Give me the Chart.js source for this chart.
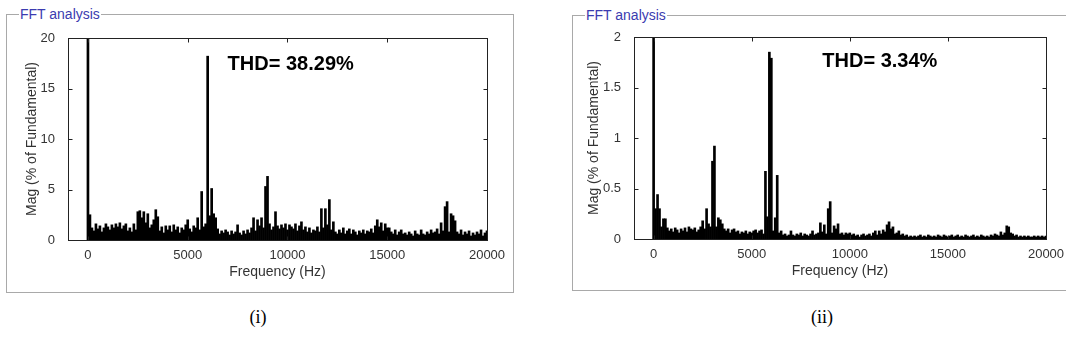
<!DOCTYPE html>
<html>
<head>
<meta charset="utf-8">
<script src="https://cdn.jsdelivr.net/npm/chart.js@4.4.0/dist/chart.umd.min.js"></script>
<style>
  body { margin:0; width:1066px; height:356px; overflow:hidden; background:#fff; position:relative; font-family:'Liberation Sans', Arial, sans-serif; }
  fieldset { position:absolute; margin:0; padding:0; border:1px solid #a9a9a9; box-sizing:border-box; }
  legend { font-size:14px; line-height:16px; color:#3b3bb0; padding:0 1px; }
  #box1 { left:6px; top:6px; width:508px; height:287px; }
  #box1 legend { margin-left:12px; }
  #box2 { left:572px; top:7px; width:520px; height:284px; }
  #box2 legend { margin-left:12px; }
  canvas { position:absolute; }
  #chart1 { left:0; top:0; }
  #chart2 { left:566px; top:0; }
  .cap { position:absolute; top:307px; width:100px; text-align:center; font-family:'Liberation Serif', serif; font-size:18px; }
</style>
</head>
<body>
<fieldset id="box1"><legend>FFT analysis</legend></fieldset>
<fieldset id="box2"><legend>FFT analysis</legend></fieldset>
<canvas id="chart1" width="520" height="300"></canvas>
<canvas id="chart2" width="500" height="300"></canvas>
<div class="cap" style="left:208px">(i)</div>
<div class="cap" style="left:772px">(ii)</div>
<script>
// 周波数ビン (Hz)
const binHz = 100;
const xTicks = [0, 5000, 10000, 15000, 20000];
const yTicks1 = [0, 5, 10, 15, 20];
const yTicks2 = [0, 0.5, 1, 1.5, 2];
const thdText = ['THD= 38.29%', 'THD= 3.34%'];

// (i) Mag (% of Fundamental), 0..20000 Hz
const mag1 = [
  100, 2.5, 1.2, 0.9, 1.6, 1.1, 1.4, 0.8, 1.2, 1.6,
  1.3, 1.0, 1.5, 1.2, 1.6, 1.3, 1.7, 1.1, 1.4, 1.6,
  0.9, 1.2, 0.8, 1.6, 1.0, 2.8, 2.9, 2.2, 2.8, 1.7,
  2.6, 1.2, 1.5, 2.0, 3.0, 2.3, 0.9, 1.3, 0.7, 1.4,
  1.0, 1.4, 0.8, 1.5, 1.0, 1.3, 0.7, 1.2, 1.0, 1.5,
  2.0, 1.1, 0.8, 1.4, 1.2, 2.2, 1.0, 4.8, 1.3, 1.6,
  18.2, 2.4, 5.1, 2.6, 2.2, 1.1, 0.6, 0.9, 0.7, 1.0,
  0.8, 0.5, 0.9, 0.6, 0.8, 1.5, 0.7, 0.5, 0.9, 0.6,
  1.0, 0.7, 1.2, 2.2, 0.9, 2.0, 1.4, 2.2, 1.2, 5.3,
  6.3, 1.6, 1.0, 1.3, 2.8, 1.4, 1.1, 1.5, 1.2, 1.6,
  1.0, 1.5, 1.3, 1.1, 1.6, 0.9, 1.4, 1.8, 1.0, 1.3,
  0.8, 1.2, 0.7, 1.0, 0.9, 1.3, 0.8, 3.1, 1.2, 3.1,
  1.5, 4.0, 1.0, 1.8, 0.8, 0.6, 1.0, 0.7, 1.2, 0.6,
  0.9, 1.1, 0.6, 1.0, 0.8, 0.5, 0.9, 0.7, 1.0, 0.6,
  0.9, 0.8, 1.1, 0.7, 1.4, 2.0, 1.3, 1.7, 0.9, 1.6,
  1.2, 1.2, 0.8, 0.6, 1.0, 0.5, 0.8, 1.0, 0.6, 0.7,
  0.5, 0.8, 0.6, 0.4, 0.9, 0.6, 0.5, 1.0, 0.6, 0.5,
  0.8, 0.6, 1.0, 0.7, 0.8, 1.1, 0.6, 1.7, 0.9, 3.3,
  3.8, 0.8, 2.6, 2.4, 1.9, 0.8, 0.6, 1.0, 0.5, 0.8,
  0.6, 0.9, 0.4, 0.7, 0.5, 0.8, 0.6, 1.0, 0.4, 0.7,
  0.9
];

// (ii) Mag (% of Fundamental), 0..20000 Hz
const mag2 = [
  100, 0.30, 0.44, 0.30, 0.12, 0.20, 0.20, 0.11, 0.08, 0.10,
  0.07, 0.11, 0.09, 0.06, 0.10, 0.08, 0.11, 0.07, 0.12, 0.10,
  0.09, 0.11, 0.07, 0.09, 0.12, 0.18, 0.10, 0.30, 0.15, 0.12,
  0.77, 0.92, 0.12, 0.21, 0.19, 0.15, 0.10, 0.08, 0.10, 0.06,
  0.09, 0.10, 0.07, 0.08, 0.05, 0.07, 0.06, 0.08, 0.05, 0.07,
  0.06, 0.08, 0.09, 0.06, 0.08, 0.09, 0.05, 0.67, 0.22, 1.85,
  1.79, 0.08, 0.21, 0.63, 0.06, 0.08, 0.04, 0.05, 0.03, 0.04,
  0.08, 0.04, 0.03, 0.05, 0.04, 0.06, 0.03, 0.05, 0.04, 0.03,
  0.05, 0.08, 0.04, 0.05, 0.06, 0.16, 0.07, 0.14, 0.05, 0.30,
  0.37, 0.06, 0.13, 0.10, 0.15, 0.05, 0.06, 0.04, 0.06, 0.05,
  0.06, 0.04, 0.05, 0.03, 0.04, 0.02, 0.04, 0.05, 0.03, 0.04,
  0.05, 0.03, 0.06, 0.08, 0.04, 0.08, 0.05, 0.09, 0.07, 0.14,
  0.17, 0.10, 0.12, 0.05, 0.06, 0.08, 0.04, 0.05, 0.03, 0.04,
  0.02, 0.03, 0.02, 0.03, 0.02, 0.03, 0.04, 0.02, 0.03, 0.02,
  0.04, 0.03, 0.02, 0.03, 0.02, 0.04, 0.03, 0.02, 0.04, 0.03,
  0.02, 0.03, 0.04, 0.02, 0.03, 0.04, 0.02, 0.03, 0.02, 0.04,
  0.03, 0.02, 0.03, 0.04, 0.02, 0.03, 0.02, 0.04, 0.03, 0.02,
  0.03, 0.02, 0.04, 0.03, 0.05, 0.04, 0.03, 0.07, 0.04, 0.06,
  0.13, 0.12, 0.06, 0.05, 0.03, 0.04, 0.02, 0.03, 0.02, 0.03,
  0.02, 0.03, 0.02, 0.02, 0.03, 0.02, 0.03, 0.02, 0.03, 0.02,
  0.03
];

Chart.defaults.font.family = "'Liberation Sans', Arial, sans-serif";
Chart.defaults.color = '#333';

// 枠線・内向き目盛り・THD表示
const boxPlugin = {
  id: 'box',
  afterDatasetsDraw(chart, args, o) {
    const { ctx, chartArea: a, scales: { x, y } } = chart;
    const L = Math.round(a.left) + 0.5, R = Math.round(a.right) + 0.5;
    const T = Math.round(a.top) + 0.5, B = Math.round(a.bottom) + 0.5;
    ctx.save();
    ctx.strokeStyle = '#222';
    ctx.lineWidth = 1;
    ctx.strokeRect(L, T, R - L, B - T);
    ctx.beginPath();
    x.ticks.forEach(t => {
      const px = Math.round(x.getPixelForValue(t.value)) + 0.5;
      ctx.moveTo(px, B); ctx.lineTo(px, B - 4);
      ctx.moveTo(px, T); ctx.lineTo(px, T + 4);
    });
    y.ticks.forEach(t => {
      const py = Math.round(y.getPixelForValue(t.value)) + 0.5;
      ctx.moveTo(L, py); ctx.lineTo(L + 4, py);
      ctx.moveTo(R, py); ctx.lineTo(R - 4, py);
    });
    ctx.stroke();
    ctx.font = "bold 20px 'Liberation Sans', Arial, sans-serif";
    ctx.fillStyle = '#000';
    ctx.textBaseline = 'middle';
    ctx.fillText(o.text, x.getPixelForValue(o.x), y.getPixelForValue(o.y));
    ctx.restore();
  }
};

function makeChart(id, mags, yTicks, opt) {
  const pts = mags.map((v, i) => ({ x: i * binHz, y: v }));
  return new Chart(document.getElementById(id), {
    type: 'bar',
    data: {
      datasets: [{
        data: pts,
        backgroundColor: '#000',
        borderWidth: 0,
        barThickness: 2,
        clip: 0
      }]
    },
    plugins: [boxPlugin],
    options: {
      responsive: false,
      animation: false,
      layout: { padding: opt.pad },
      plugins: {
        legend: { display: false },
        tooltip: { enabled: false },
        box: { text: opt.text, x: opt.tx, y: opt.ty }
      },
      scales: {
        x: {
          type: 'linear',
          offset: false,
          min: -1000,
          max: 20000,
          grid: { display: false },
          border: { display: false },
          afterBuildTicks: s => { s.ticks = xTicks.map(v => ({ value: v })); },
          afterFit: s => { s.height = 42; },
          ticks: { padding: 0, font: { size: 13 }, callback: v => String(v) },
          title: { display: true, text: 'Frequency (Hz)', font: { size: 14 }, padding: { top: 0, bottom: 1.6 } }
        },
        y: {
          min: 0,
          max: yTicks[yTicks.length - 1],
          grid: { display: false },
          border: { display: false },
          afterBuildTicks: s => { s.ticks = yTicks.map(v => ({ value: v })); },
          afterFit: s => { s.width = 68; },
          ticks: { padding: 5, font: { size: 13 }, callback: v => String(v) },
          title: { display: true, text: 'Mag (% of Fundamental)', font: { size: 14 }, padding: { top: opt.titleTop, bottom: 0 } }
        }
      }
    }
  });
}

makeChart('chart1', mag1, yTicks1, {
  pad: { top: 38, right: 33, bottom: 18, left: 0 },
  titleTop: 23.6, text: thdText[0], tx: 7000, ty: 17.4
});
makeChart('chart2', mag2, yTicks2, {
  pad: { top: 37, right: 20, bottom: 19, left: 0 },
  titleTop: 19.6, text: thdText[1], tx: 8600, ty: 1.76
});
</script>
</body>
</html>
